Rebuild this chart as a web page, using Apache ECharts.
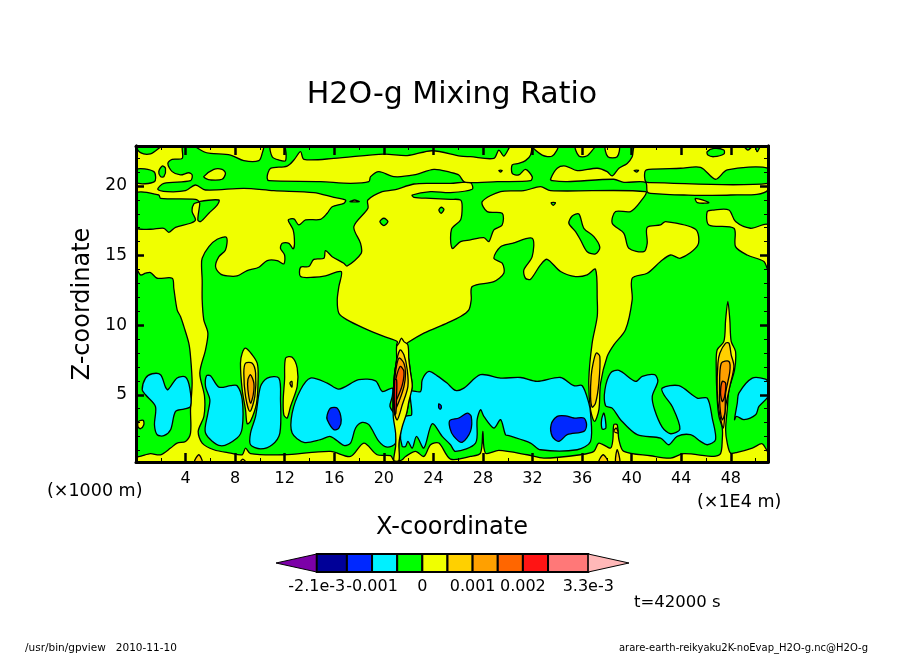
<!DOCTYPE html>
<html>
<head>
<meta charset="utf-8">
<style>html,body{margin:0;padding:0;background:#fff}#chart{width:904px;height:654px}</style>
<script src="https://cdn.jsdelivr.net/npm/echarts@6/dist/echarts.min.js"></script>
</head>
<body>
<div id="chart"></div>
<script>
// contour regions, [x (1E4 m), z (1000 m)]
const wholeDomain = [[0,0.17],[51,0.17],[51,22.9],[0,22.9]];

const greenMain = [[5.34,1.53],[5.02,2.37],[5.48,3.45],[5.53,4.88],[5.15,6.56],[5.61,8.23],[5.8,9.43],[5.47,10.38],[5.34,11.82],[5.34,13.25],[5.29,14.21],[5.34,14.81],[5.88,15.64],[6.55,16.17],[7.3,16.31],[7.22,15.4],[6.69,14.92],[6.42,14.21],[6.82,13.68],[7.36,13.54],[8.16,13.54],[8.97,13.92],[9.91,14.16],[10.59,14.64],[11.39,14.64],[11.93,14.4],[11.99,15.04],[11.66,15.52],[11.8,15.88],[12.34,15.88],[12.68,15.48],[12.79,15.88],[12.68,16.84],[12.28,17.56],[12.74,17.63],[13.14,17.2],[13.68,17.56],[14.89,17.6],[15.43,18.04],[15.83,18.51],[16.77,18.75],[16.91,18.99],[15.97,19.18],[14.35,19.52],[11.12,19.66],[8.7,19.83],[5.61,19.71],[4.8,20.07],[3.99,19.66],[2.52,19.59],[1.76,19.76],[2.25,20.19],[4.4,20.38],[4.53,20.79],[4.26,20.95],[3.59,20.79],[2.92,21.03],[2.57,21.62],[2.92,21.91],[3.73,21.98],[3.86,22.9],[51,22.9],[51,0.93],[50.54,1.48],[49.73,1.17],[48.52,0.86],[47.98,0.81],[47.71,1.53],[47.58,2.49],[47.71,3.92],[47.85,5.36],[48.3,6.79],[48.38,8.11],[48.03,8.83],[47.92,10.38],[47.76,11.7],[47.58,10.38],[47.44,8.83],[46.9,8.23],[46.82,7.03],[46.9,4.64],[47.04,3.45],[47.31,2.61],[47.31,1.77],[47.17,0.77],[46.63,0.57],[44.21,0.77],[43.14,0.45],[41.52,0.62],[39.37,0.93],[38.97,1.77],[38.83,2.85],[38.56,2.85],[38.48,1.77],[38.29,1.17],[37.35,1.53],[36.95,0.93],[35.87,0.69],[32.91,0.45],[31.57,0.69],[29.28,1.0],[28.2,0.81],[27.99,2.37],[27.8,0.81],[26.99,0.57],[25.38,0.38],[24.44,1.53],[23.77,1.41],[23.23,0.57],[22.56,0.93],[21.75,0.57],[21.48,0.33],[21.22,0.28],[21.22,1.52],[21.49,2.72],[21.84,3.68],[22.02,4.52],[22.29,5.59],[22.16,6.55],[22.02,7.51],[21.75,8.58],[21.94,8.75],[23.23,9.43],[25.1,10.15],[26.19,10.62],[26.86,11.1],[27.05,11.82],[27.13,12.77],[28.88,13.13],[29.68,13.73],[29.55,14.45],[28.88,14.81],[29.42,15.64],[30.36,15.88],[31.97,16.24],[31.97,14.92],[31.3,13.97],[31.43,13.37],[31.84,13.3],[32.64,14.33],[33.18,14.73],[34.26,13.85],[35.47,13.49],[36.41,13.61],[37.08,14.02],[37.22,11.81],[37.22,10.62],[36.81,8.71],[36.54,6.08],[36.68,3.92],[37.0,3.09],[37.35,3.92],[37.49,5.84],[38.02,7.75],[38.56,8.59],[39.5,9.67],[40.04,11.82],[40.04,13.37],[41.25,13.73],[42.33,14.57],[43.14,15.04],[43.94,14.81],[45.34,15.76],[45.15,16.89],[42.73,17.44],[42.33,17.2],[41.25,17.03],[41.25,15.88],[40.98,15.28],[39.77,15.52],[39.37,16.6],[38.43,17.32],[38.7,18.16],[39.91,18.16],[40.71,18.87],[41.12,19.59],[33.45,19.66],[32.64,19.95],[31.3,19.66],[29.42,19.59],[27.94,18.87],[28.34,18.16],[29.55,18.04],[29.55,17.2],[28.88,16.84],[28.47,16.0],[28.07,16.29],[26.99,16.12],[26.19,16.0],[25.51,15.52],[25.46,16.89],[26.19,17.56],[26.32,18.51],[26.19,18.99],[25.38,19.04],[23.77,19.11],[22.43,19.18],[22.29,19.35],[23.77,19.59],[25.38,19.52],[27.13,19.76],[26.99,20.24],[25.38,20.19],[23.77,20.19],[22.43,20.14],[20.81,19.71],[19.87,19.59],[18.71,18.99],[18.71,18.39],[17.58,17.08],[18.12,15.88],[18.17,15.16],[17.04,14.25],[16.77,14.45],[15.83,14.92],[15.29,15.36],[15.16,14.81],[14.35,14.73],[13.95,14.21],[13.28,14.16],[13.28,13.49],[14.35,13.44],[15.29,13.54],[16.56,13.85],[16.37,12.77],[16.24,11.81],[16.37,10.86],[17.04,10.38],[18.39,9.79],[20.0,9.19],[21.08,8.83],[21.03,8.58],[21.03,7.51],[20.87,6.55],[20.76,5.11],[20.76,3.44],[20.95,2.24],[20.95,1.28],[20.81,0.28],[20.54,0.62],[19.46,0.69],[18.39,1.53],[17.31,0.57],[15.7,0.93],[11.93,0.69],[9.24,0.77],[8.84,1.17],[8.57,0.69],[7.63,0.81],[6.28,1.05]];
const greenLowerLeft = [[0,14.09],[0.36,13.61],[0.77,13.73],[1.17,13.78],[1.71,13.37],[2.92,13.37],[3.05,12.65],[3.32,11.1],[3.59,10.62],[3.86,9.91],[4.26,8.71],[4.4,7.75],[4.53,5.84],[4.4,3.92],[4.4,2.25],[4.0,1.65],[3.32,1.53],[2.79,1.17],[1.98,0.69],[1.17,0.77],[0,0.65]];
const greenTopLeft = [[0,22.9],[0.36,22.39],[1.17,22.3],[1.84,22.7],[2.0,22.9]];
const greenLeftPatch = [[0,21.19],[1.44,21.03],[1.49,20.31],[0,20.24]];
const greenOval = [[1.84,21.03],[2.11,21.43],[2.38,21.27],[2.25,20.67],[1.98,20.67]];
const greenLeftMid = [[0,19.47],[1.84,19.35],[1.98,19.11],[4.8,19.04],[5.07,18.87],[4.67,18.71],[4.53,18.16],[4.8,17.56],[4.4,17.32],[3.19,17.03],[2.65,16.67],[2.25,16.96],[1.17,16.89],[0,17.03]];
const greenLeftLobe = [[5.07,18.87],[6.69,18.99],[6.55,18.63],[5.88,18.04],[5.21,17.44],[4.99,17.56],[5.15,18.75]];

const yellowBandOval = [[5.47,20.67],[6.28,21.19],[6.95,21.19],[7.22,20.91],[6.95,20.48],[6.01,20.43],[5.61,20.55]];
const yellowPockets = [
  [[4.8,22.9],[5.47,22.46],[6.01,22.34],[7.63,22.22],[8.7,21.82],[9.91,21.82],[10.18,22.34],[10.24,22.9]],
  [[10.86,22.9],[10.99,22.1],[11.53,21.86],[12.07,21.82],[11.93,22.9]],
  [[31.97,22.9],[32.78,22.22],[33.59,22.15],[34.04,22.9]],
  [[35.47,22.9],[35.74,22.15],[36.36,22.15],[36.95,22.7],[37.11,22.9]],
  [[37.89,22.9],[38.08,22.1],[38.83,22.1],[38.97,22.9]],
  [[17.27,18.87],[17.64,18.99],[18.01,18.87]],
  [[45.15,19.11],[46.23,18.8],[45.29,18.8]],
  [[0.15,2.73],[0.22,3.09],[0.58,3.16],[0.63,2.85],[0.36,2.56]]
];
const yellowUpperBand = [[10.59,20.55],[10.64,20.91],[10.86,21.27],[12.2,21.43],[12.74,21.86],[13.28,22.46],[13.55,21.91],[15.97,21.98],[20.0,22.29],[21.89,22.18],[23.9,22.53],[26.19,22.15],[26.99,22.1],[28.88,21.98],[29.28,22.58],[29.68,22.15],[30.09,22.7],[30.17,22.9],[31.84,22.9],[31.84,22.22],[31.43,21.82],[30.88,21.62],[30.36,21.51],[30.36,20.91],[30.88,20.79],[31.43,21.19],[31.97,20.67],[31.84,20.38],[29.15,20.31],[26.99,20.24],[26.46,20.31],[26.05,20.79],[25.38,20.98],[24.04,21.19],[22.43,20.79],[20.81,20.67],[19.6,21.03],[18.93,20.67],[18.79,20.31],[17.31,20.19],[14.89,20.31],[10.72,20.38]];
const yellowUpperRight = [[33.45,20.48],[33.99,21.27],[34.66,21.43],[35.6,21.1],[37.22,21.27],[38.02,21.03],[38.43,20.72],[38.97,21.27],[39.64,21.62],[40.04,22.1],[40.31,22.9],[51,22.9],[51,19.71],[47.98,19.35],[44.21,19.35],[41.52,19.47],[41.25,19.59],[41.12,20.26],[39.37,20.26],[38.56,20.48],[34.8,20.31],[33.59,20.38]];
const yellowChamber = [[46.1,18.16],[46.63,18.27],[47.84,18.27],[48.38,17.44],[49.59,16.96],[51,17.2],[51,13.97],[50.67,14.57],[49.32,15.04],[48.38,15.64],[48.25,16.96],[46.23,17.2]];

const greenIslands = [
  [[41.12,20.31],[41.07,21.03],[41.39,21.19],[43.94,21.27],[45.56,21.34],[46.77,20.48],[47.71,21.15],[51,21.27],[51,20.19],[41.52,20.24]],
  [[46.09,22.46],[46.63,22.7],[47.44,22.58],[47.44,22.29],[46.63,22.1],[46.15,22.22]],
  [[49.06,22.9],[49.38,22.58],[49.73,22.9]],
  [[50.0,22.9],[50.13,22.46],[50.35,22.9]],
  [[34.93,17.32],[35.2,17.84],[35.74,17.99],[36.14,16.96],[36.95,16.36],[37.43,15.59],[37.08,15.12],[36.41,15.28],[35.87,16.12],[35.47,16.72]],
  [[33.5,18.8],[33.85,18.8],[33.67,18.61]],
  [[19.68,17.44],[20.0,17.68],[20.33,17.44],[20.0,17.15]],
  [[24.44,18.27],[24.63,18.47],[24.85,18.32],[24.63,18.04]],
  [[29.28,21.12],[29.55,21.12],[29.42,21.0]],
  [[40.2,21.12],[40.55,21.12],[40.4,21.0]]
];

const cyanRegions = [
  [[0.5,5.36],[0.77,6.2],[1.3,6.51],[1.98,6.44],[2.38,5.55],[2.57,5.36],[3.32,6.2],[3.99,6.27],[4.34,5.48],[4.4,4.16],[3.86,3.97],[3.19,3.8],[2.79,2.49],[2.25,2.06],[1.71,2.13],[1.49,2.85],[1.57,4.16],[0.77,5.0]],
  [[5.61,5.6],[5.69,6.36],[6.01,6.36],[6.69,5.55],[7.63,5.65],[8.16,5.65],[8.57,4.64],[8.57,2.61],[8.16,1.89],[6.82,1.34],[5.61,2.25],[5.8,3.68],[5.96,4.64]],
  [[9.24,2.25],[9.65,3.45],[10.05,5.6],[10.59,6.2],[11.53,6.2],[11.66,4.64],[11.61,2.25],[10.99,1.41],[10.05,1.12],[9.24,1.41]],
  [[12.6,3.68],[13.28,5.36],[14.08,6.2],[15.43,5.84],[16.37,5.41],[17.98,6.08],[19.33,6.0],[19.87,5.24],[20.68,5.48],[20.68,4.88],[20.49,4.16],[20.94,3.45],[20.94,1.53],[20.27,1.24],[19.6,1.65],[18.79,2.85],[18.25,3.01],[17.72,2.61],[17.31,1.53],[16.77,1.36],[15.7,2.0],[14.89,1.77],[13.55,1.58],[12.6,2.25]],
  [[21.35,2.37],[21.75,3.45],[22.24,3.56],[22.16,5.24],[22.96,5.24],[23.1,6.08],[23.63,6.68],[24.31,6.36],[25.1,5.84],[25.79,5.31],[26.46,5.48],[27.8,6.44],[29.42,6.2],[31.03,6.24],[32.37,5.96],[34.26,6.24],[35.33,5.65],[36.01,5.65],[36.54,4.4],[36.68,3.68],[36.68,1.65],[35.6,1.05],[32.64,1.05],[31.84,1.53],[30.09,2.06],[29.82,2.13],[29.42,3.21],[28.88,2.61],[28.07,3.45],[27.8,3.92],[27.53,3.21],[27.4,1.53],[25.78,0.93],[25.38,1.41],[24.71,2.01],[23.9,2.92],[23.23,1.17],[22.64,2.01],[22.29,1.17],[21.94,1.65],[21.75,1.29],[21.48,1.29]],
  [[37.76,3.68],[37.92,2.61],[37.62,2.54],[37.57,3.21]],
  [[37.89,4.21],[37.84,5.36],[38.29,6.56],[38.97,6.75],[40.31,5.96],[40.85,6.32],[41.85,6.44],[42.11,5.96],[41.66,4.88],[41.85,3.92],[42.46,2.68],[43.14,2.2],[43.89,2.54],[43.27,4.16],[42.6,5.0],[42.46,5.48],[43.81,5.65],[45.29,4.76],[46.1,4.76],[46.5,3.33],[46.77,1.77],[46.1,1.41],[45.56,1.65],[44.75,2.13],[43.67,2.01],[43.0,1.41],[42.33,1.89],[40.45,2.13],[39.1,3.21],[38.43,4.04]],
  [[48.3,3.21],[48.52,4.4],[48.65,5.12],[49.73,6.2],[50.8,6.12],[51,5.84],[51,4.88],[50.27,4.16],[50.0,3.56],[49.06,3.21],[48.46,3.45]]
];
const blueRegions = [
  [[15.43,3.56],[15.7,4.04],[16.24,4.04],[16.56,3.21],[16.37,2.61],[15.97,2.49],[15.43,3.21]],
  [[25.33,3.16],[26.05,3.33],[26.73,3.68],[27.05,3.45],[26.99,2.37],[26.32,1.58],[25.65,2.01],[25.33,2.61]],
  [[33.5,2.85],[33.99,3.45],[34.66,3.49],[35.33,3.33],[36.14,3.33],[36.36,2.85],[36.14,2.37],[34.8,2.13],[34.12,1.65],[33.59,2.01]],
  [[24.44,4.35],[24.63,4.21],[24.58,3.97],[24.44,4.04]]
];

const yellowPlumes = [
  [[8.84,8.35],[9.38,7.87],[9.78,7.27],[9.86,6.32],[9.73,4.4],[9.24,3.09],[8.97,2.92],[8.84,3.92],[8.57,5.36],[8.43,7.27],[8.57,7.99]],
  [[12.07,7.63],[12.6,7.7],[13.01,6.91],[13.01,5.6],[12.47,4.16],[12.2,3.33],[11.93,3.56],[11.88,4.64],[11.99,6.08]],
  [[21.03,8.46],[21.22,8.7],[21.41,9.06],[21.62,8.82],[21.94,8.58],[22.02,7.51],[22.16,6.55],[22.29,5.59],[22.02,4.52],[21.84,3.68],[21.49,2.72],[21.22,1.52],[21.22,0.28],[20.81,0.28],[20.95,1.28],[20.95,2.24],[20.76,3.44],[20.76,5.11],[20.87,6.55],[21.03,7.51]]
];
const goldRegions = [
  [[8.84,7.27],[9.38,7.27],[9.65,6.56],[9.59,4.88],[9.19,3.8],[8.84,4.88],[8.7,6.56]],
  [[21.3,8.22],[21.62,7.87],[21.89,6.79],[21.94,5.59],[21.49,4.28],[21.08,3.2],[20.81,3.92],[20.81,5.59],[20.95,7.03]],
  [[37.14,7.99],[37.43,7.75],[37.35,5.84],[37.08,4.4],[36.81,4.11],[36.68,4.88],[36.73,6.32],[36.89,7.27]],
  [[47.58,8.71],[47.85,8.71],[48.03,7.87],[48.25,7.03],[47.92,5.6],[47.58,4.16],[47.39,2.61],[47.04,3.92],[46.9,5.36],[46.96,7.27],[47.12,8.0]],
  [[4.72,0.17],[5.07,0.69],[5.34,0.17]],
  [[37.35,0.17],[37.7,0.69],[38.08,0.17]],
  [[38.7,0.17],[38.83,1.05],[39.05,0.17]],
  [[8.43,0.17],[8.62,0.38],[8.84,0.17]],
  [[38.56,2.37],[38.75,2.61],[38.91,2.25]],
  [[12.42,5.84],[12.58,5.96],[12.58,5.55]]
];
const orangeRegions = [
  [[9.24,6.44],[9.51,5.84],[9.46,5.0],[9.24,4.4],[9.03,5.36],[9.03,6.08]],
  [[21.22,7.63],[21.62,7.27],[21.75,6.55],[21.62,5.59],[21.22,4.52],[20.89,3.92],[20.84,5.35],[20.95,6.67]],
  [[47.23,7.27],[47.85,7.39],[47.92,6.68],[47.58,5.12],[47.52,3.68],[47.31,3.21],[47.12,4.16],[47.09,5.6]]
];
const darkOrangeRegions = [
  [[21.3,7.03],[21.62,6.67],[21.49,5.71],[21.08,4.75],[20.89,4.52],[20.87,5.59]],
  [[47.31,5.96],[47.58,5.84],[47.5,4.88],[47.31,4.52],[47.17,5.12]]
];
const redRegions = [
  [[20.87,6.07],[21.03,6.07],[21.03,4.99],[20.97,3.68],[20.87,3.56]]
];

// colour bar
const colorbarLevels = [-0.0021,-0.0015,-0.001,-0.0005,0,0.0005,0.001,0.0015,0.002,0.0025,0.0033];
const colorbarEnds = [-0.00291,0.00411];
const colorbarColors = ['#7c00a8','#000098','#0028ff','#00f0ff','#00ff00','#f0ff00','#ffd000','#ffa000','#ff6600','#ff1414','#ff7878','#ffb8b8'];
const colorbarTicks = [-0.0021,-0.001,0,0.001,0.002,0.0033];
const colorbarLabels = ['-2.1e-3','-0.001','0','0.001','0.002','3.3e-3'];

const zTicks = [5,10,15,20];
const zMinorTicks = [1,2,3,4,6,7,8,9,11,12,13,14,16,17,18,19,21,22];

const [PURPLE,NAVY,BLUE,CYAN,GREEN,YELLOW,GOLD,ORANGE,DKORANGE,RED] = colorbarColors;

// painted in this order, later regions cover earlier ones
const regions = [
  [wholeDomain,YELLOW,0],
  [greenMain,GREEN,0.3],[greenLowerLeft,GREEN,0.3],[greenTopLeft,GREEN,0.3],[greenLeftPatch,GREEN,0.3],[greenOval,GREEN,0.3],[greenLeftMid,GREEN,0.3],[greenLeftLobe,GREEN,0.3],
  [yellowBandOval,YELLOW,0.3],[yellowUpperBand,YELLOW,0.3],[yellowUpperRight,YELLOW,0.3],[yellowChamber,YELLOW,0.3],
  ...yellowPockets.map(p => [p,YELLOW,0.3]),
  ...greenIslands.map(p => [p,GREEN,0.3]),
  ...cyanRegions.map(p => [p,CYAN,0.3]),
  ...blueRegions.map(p => [p,BLUE,0.3]),
  ...yellowPlumes.map(p => [p,YELLOW,0.3]),
  ...goldRegions.map(p => [p,GOLD,0.3]),
  ...orangeRegions.map(p => [p,ORANGE,0.3]),
  ...darkOrangeRegions.map(p => [p,DKORANGE,0.3]),
  ...redRegions.map(p => [p,RED,0.3])
];

const FONT = '"DejaVu Sans"';
const chart = echarts.init(document.getElementById('chart'), null, {renderer: 'canvas'});

function renderRegion(params, api) {
  const r = regions[params.dataIndex];
  return {
    type: 'polygon',
    shape: {points: r[0].map(p => api.coord(p)), smooth: r[2]},
    style: {fill: r[1], stroke: '#000', lineWidth: 1.3}
  };
}

function renderBox(params, api) {
  const i = params.dataIndex;
  const lo = api.value(0), hi = api.value(1);
  let pts = [[lo,0],[hi,0],[hi,1],[lo,1]];
  if (i === 0) pts = [[lo,0.5],[hi,1],[hi,0]];
  if (i === colorbarColors.length - 1) pts = [[lo,0],[hi,0.5],[lo,1]];
  return {
    type: 'polygon',
    shape: {points: pts.map(p => api.coord(p))},
    style: {fill: colorbarColors[i], stroke: '#000', lineWidth: i === 0 || i === colorbarColors.length - 1 ? 1 : 2}
  };
}

const edges = [colorbarEnds[0], ...colorbarLevels, colorbarEnds[1]];
const boxData = colorbarColors.map((c, i) => [edges[i], edges[i + 1]]);

const frameLine = {show: true, onZero: false, lineStyle: {color: '#000', width: 3}};

function xFrameAxis(position, showLabels) {
  return {
    type: 'value', gridIndex: 0, position, min: 0, max: 51, interval: 4, z: 10,
    axisLine: frameLine,
    axisTick: {show: true, inside: true, length: 9, lineStyle: {color: '#000', width: 2.5}},
    minorTick: {show: true, splitNumber: 2, length: 4, lineStyle: {color: '#000', width: 1}},
    splitLine: {show: false},
    axisLabel: {
      show: showLabels, margin: 9, color: '#000', fontFamily: FONT, fontSize: 16,
      showMinLabel: false, showMaxLabel: false
    }
  };
}

function zFrameAxis(position, values, length, width, showLabels) {
  return {
    type: 'value', gridIndex: 0, position, min: 0.17, max: 22.87, z: 10,
    axisLine: frameLine,
    axisTick: {show: true, inside: true, length, customValues: values, lineStyle: {color: '#000', width}},
    splitLine: {show: false},
    axisLabel: {show: showLabels, customValues: values, margin: 9, color: '#000', fontFamily: FONT, fontSize: 17}
  };
}

const bottomAxis = xFrameAxis('bottom', true);
bottomAxis.name = 'X-coordinate';
bottomAxis.nameLocation = 'middle';
bottomAxis.nameGap = 54;
bottomAxis.nameTextStyle = {color: '#000', fontFamily: FONT, fontSize: 24};

const leftAxis = zFrameAxis('left', zTicks, 8, 2.5, true);
leftAxis.name = 'Z-coordinate';
leftAxis.nameLocation = 'middle';
leftAxis.nameGap = 41;
leftAxis.nameRotate = 90;
leftAxis.nameTextStyle = {color: '#000', fontFamily: FONT, fontSize: 24};

function note(text, x, y, size, align) {
  return {type: 'text', x, y, style: {text, fill: '#000', font: size + 'px ' + FONT, textAlign: align || 'left', textVerticalAlign: 'middle'}};
}

chart.setOption({
  animation: false,
  backgroundColor: '#fff',
  title: {
    text: 'H2O-g Mixing Ratio', left: 'center', top: 75,
    textStyle: {color: '#000', fontFamily: FONT, fontWeight: 'normal', fontSize: 30}
  },
  grid: [
    {left: 136, right: 136, top: 146, bottom: 192},
    {left: 276, width: 353, top: 554, height: 18}
  ],
  xAxis: [
    bottomAxis,
    xFrameAxis('top', false),
    {
      type: 'value', gridIndex: 1, min: colorbarEnds[0], max: colorbarEnds[1],
      axisLine: {show: false}, axisTick: {show: false}, splitLine: {show: false},
      axisLabel: {
        customValues: colorbarTicks, margin: 7, color: '#000', fontFamily: FONT, fontSize: 16,
        formatter: v => colorbarLabels[colorbarTicks.indexOf(v)]
      }
    }
  ],
  yAxis: [
    leftAxis,
    zFrameAxis('left', zMinorTicks, 4, 1, false),
    zFrameAxis('right', zTicks, 8, 2.5, false),
    zFrameAxis('right', zMinorTicks, 4, 1, false),
    {type: 'value', gridIndex: 1, min: 0, max: 1, show: false}
  ],
  series: [
    {
      type: 'custom', xAxisIndex: 0, yAxisIndex: 0, clip: true, silent: true,
      renderItem: renderRegion, data: regions.map((r, i) => [i])
    },
    {
      type: 'custom', xAxisIndex: 2, yAxisIndex: 4, silent: true,
      renderItem: renderBox, encode: {x: [0, 1]}, data: boxData
    }
  ],
  graphic: [
    note('(\u00d71000 m)', 47, 491, 17.5),
    note('(\u00d71E4 m)', 697, 502, 17.5),
    note('t=42000 s', 634, 603, 16.5),
    note('/usr/bin/gpview   2010-11-10', 25, 648, 10.5),
    note('arare-earth-reikyaku2K-noEvap_H2O-g.nc@H2O-g', 868, 648, 10, 'right')
  ]
});
</script>
</body>
</html>
